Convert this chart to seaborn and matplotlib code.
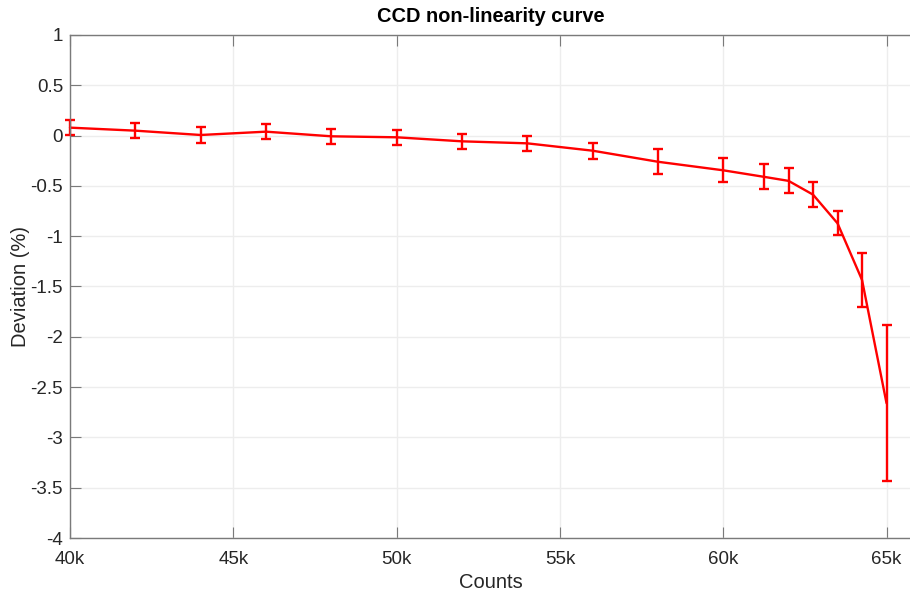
import matplotlib
matplotlib.use("Agg")
import matplotlib.pyplot as plt
import seaborn as sns
import pandas as pd
from matplotlib.ticker import FuncFormatter

# Measured CCD response: counts vs deviation from linearity (%)
counts = [40000, 42000, 44000, 46000, 48000, 50000, 52000, 54000, 56000,
          58000, 60000, 61250, 62000, 62750, 63500, 64250, 65000]
deviation = [0.079, 0.049, 0.006, 0.039, -0.007, -0.017, -0.057, -0.077, -0.150,
             -0.26, -0.345, -0.41, -0.45, -0.587, -0.872, -1.435, -2.66]
error = [0.077, 0.075, 0.075, 0.075, 0.075, 0.076, 0.076, 0.076, 0.078,
         0.124, 0.121, 0.123, 0.123, 0.123, 0.121, 0.267, 0.775]

x_ticks = [40000, 45000, 50000, 55000, 60000, 65000]
y_ticks = [1, 0.5, 0, -0.5, -1, -1.5, -2, -2.5, -3, -3.5, -4]

df = pd.DataFrame({"Counts": counts, "Deviation": deviation, "Error": error})

sns.set_theme(style="whitegrid")
plt.rcParams["font.family"] = ["Liberation Sans", "DejaVu Sans"]

fig = plt.figure(figsize=(9.1, 5.92), dpi=100)
# axes box runs just past the right edge of the canvas
ax = fig.add_axes([0.0769, 0.0912, 0.9253, 0.8497])

sns.lineplot(data=df, x="Counts", y="Deviation", ax=ax, color="#ff0000",
             linewidth=1.7, errorbar=None)
eb = ax.errorbar(df["Counts"], df["Deviation"], yerr=df["Error"], fmt="none",
                 ecolor="#ff0000", elinewidth=1.7, capsize=3.5, capthick=1.7)
for artist in eb.lines[1] + eb.lines[2]:
    artist.set_clip_on(False)
for line in ax.lines:
    line.set_clip_on(False)

ax.set_xlim(40000, 65780)
ax.set_ylim(-4, 1)
ax.set_xticks(x_ticks)
ax.set_yticks(y_ticks)
ax.xaxis.set_major_formatter(FuncFormatter(lambda v, p: f"{int(round(v / 1000))}k"))
ax.yaxis.set_major_formatter(FuncFormatter(lambda v, p: f"{v:g}"))

ax.set_facecolor("white")
ax.grid(True, color="#ededed", linewidth=1.0)
for side in ["left", "bottom", "top", "right"]:
    ax.spines[side].set_visible(True)
    ax.spines[side].set_color("#7a7a7a")
    ax.spines[side].set_linewidth(1.0)

ax.tick_params(axis="both", which="major", direction="in", length=8, width=0.8,
               color="#7a7a7a", labelsize=13.5, labelcolor="#262626",
               bottom=True, left=True, top=True, right=False)
ax.tick_params(axis="x", pad=9)
ax.tick_params(axis="y", pad=5)

ax.set_xlabel("Counts", fontsize=14.5, color="#262626", labelpad=4)
ax.set_ylabel("Deviation (%)", fontsize=14.5, color="#262626")
ax.yaxis.set_label_coords(-0.0476, 0.5)
ax.set_title("CCD non-linearity curve", fontsize=14.4, fontweight="bold",
             color="black", pad=9)

fig.savefig("out.png", dpi=100, facecolor="white")
